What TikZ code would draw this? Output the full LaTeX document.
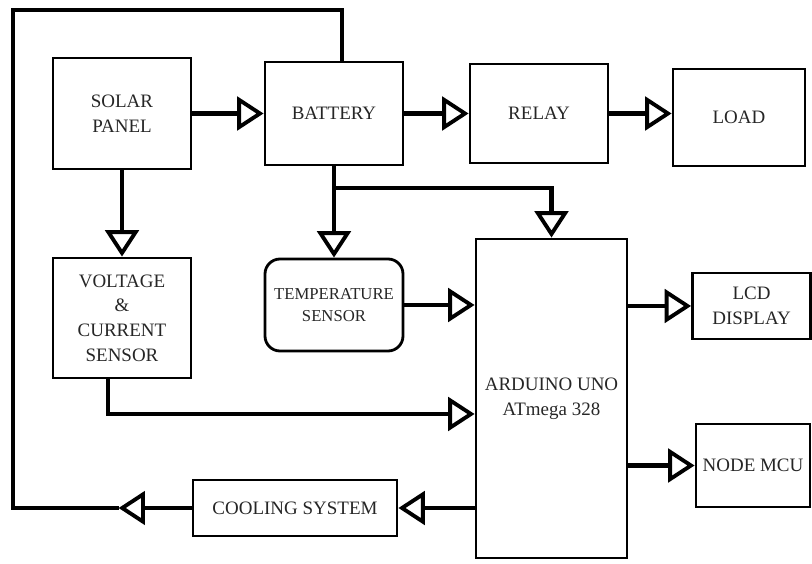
\documentclass[tikz,border=0pt]{standalone}
\usepackage{fontspec}
\setmainfont{Liberation Serif}
\usetikzlibrary{positioning,arrows.meta}
\tikzset{on grid,
block/.style ={draw, line width=1.6pt, align=center, inner sep=2pt,
  font=\fontsize{10.8}{14}\selectfont, text=black!85},
wire/.style ={line width=2.3pt},
flow/.style ={wire, -{Triangle[open,length=15pt,width=19pt,line width=2.2pt]}}}

\begin{document}
\begin{tikzpicture}
\useasboundingbox (0,0) rectangle (16.24,11.28);
\node[block, minimum width=2.76cm, minimum height=2.22cm] (solar) at (2.44,9.01) {SOLAR\\PANEL};
\node[block, minimum width=2.76cm, minimum height=2.06cm] (bat) [right=4.24cm of solar] {BATTERY};
\node[block, minimum width=2.76cm, minimum height=1.98cm] (relay) [right=4.1cm of bat] {RELAY};
\node[block, minimum width=2.64cm, minimum height=1.94cm] (load) [below right=0.08cm and 4cm of relay] {LOAD};
\node[block, minimum width=2.76cm, minimum height=2.4cm] (volt) [below=4.09cm of solar] {VOLTAGE\\\&\\CURRENT\\SENSOR};
\node[block, rounded corners=0.3cm, minimum width=2.76cm, minimum height=1.84cm,
  font=\fontsize{9.5}{13}\selectfont] (temp) [below=3.83cm of bat] {TEMPERATURE\\SENSOR};
\node[block, minimum width=3.02cm, minimum height=6.38cm] (ard) [below right=5.7cm and 0.25cm of relay] {ARDUINO UNO\\ATmega 328};
\node[block, minimum width=2.36cm, minimum height=1.32cm] (lcd) [above right=1.85cm and 4cm of ard] {LCD\\DISPLAY};
\node[block, minimum width=2.28cm, minimum height=1.66cm] (mcu) [below right=1.34cm and 4.03cm of ard] {NODE MCU};
\node[block, minimum width=4.08cm, minimum height=1.12cm] (cool) [below left=2.19cm and 5.13cm of ard] {COOLING SYSTEM};
\coordinate (split) at ([yshift=-0.44cm]bat.south);
\coordinate (ret) at ([xshift=-1.46cm]cool.west);
\coordinate (corner) at (0.26,11.08);
\draw[flow] (solar.east) -- (solar.east -| bat.west);
\draw[flow] (bat.east) -- (bat.east -| relay.west);
\draw[flow] (relay.east) -- (relay.east -| load.west);
\draw[flow] (solar.south) -- (solar.south |- volt.north);
\draw[flow] (bat.south) -- (bat.south |- temp.north);
\draw[flow] (split) -| (ard.north);
\draw[flow] (temp.east) -- (temp.east -| ard.west);
\draw[flow] ([xshift=-0.28cm]volt.south) |- ([yshift=-0.31cm]ard.west);
\draw[flow] (ard.east |- lcd) -- (lcd.west);
\draw[flow] (ard.east |- mcu) -- (mcu.west);
\draw[flow] (ard.west |- cool) -- (cool.east);
\draw[flow] (cool.west) -- (ret);
\draw[wire] (ret) -| (corner) -| ([xshift=0.16cm]bat.north);
\end{tikzpicture}
\end{document}
